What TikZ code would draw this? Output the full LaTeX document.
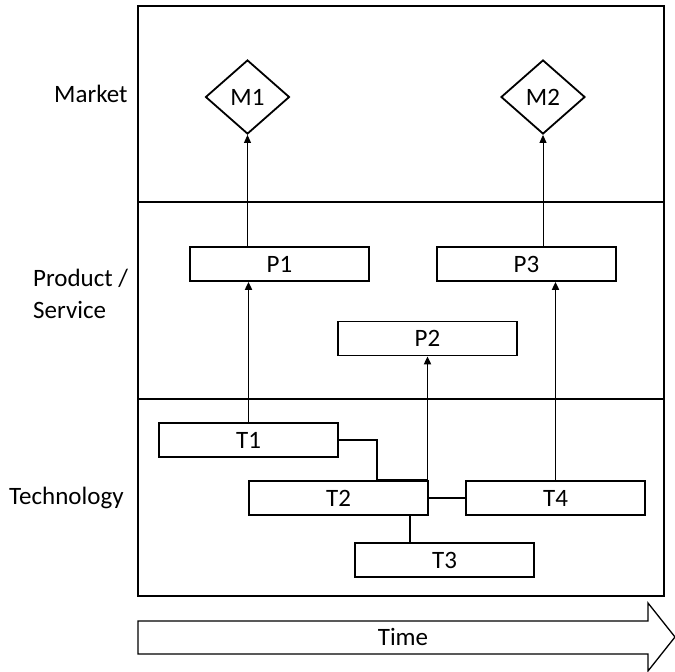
\documentclass[tikz,border=0pt]{standalone}
\usepackage{fontspec}
\setmainfont{Carlito}
\usetikzlibrary{shapes.geometric,arrows.meta}
\begin{document}
\begin{tikzpicture}[x=1pt,y=-1pt,
  font=\fontsize{25}{32}\selectfont,
  layer/.style={draw, line width=1.8pt, minimum width=526pt, inner sep=0pt},
  box/.style={draw, line width=1.8pt, minimum width=179pt, minimum height=34pt, inner sep=0pt},
  mk/.style={draw, diamond, line width=1.8pt, minimum width=84pt, minimum height=74pt, inner sep=0pt, aspect=1.13},
  lbl/.style={inner sep=0pt, align=left},
  thinarrow/.style={line width=1pt, -{Triangle[length=8pt,width=7pt]}},
  thickarrow/.style={line width=1.9pt, -{Triangle[length=8pt,width=7pt]}},
  link/.style={line width=1.9pt}]
\useasboundingbox (0,0) rectangle (675,672);
% layers
\node[layer, minimum height=196pt] (market) at (401,104) {};
\node[layer, minimum height=197pt] (product) at (401,300.5) {};
\node[layer, minimum height=197pt] (tech) at (401,497.5) {};
% labels
\node[lbl, anchor=base west] (lmarket) at (54,102) {Market};
\node[lbl, anchor=west] (lproduct) at (33,294) {Product /\\Service};
\node[lbl, anchor=base west] (ltech) at (9,504) {Technology};
% market
\node[mk] (M1) at (247.5,97) {M1};
\node[mk] (M2) at (543,97) {M2};
% product
\node[box] (P1) at (279.5,264) {P1};
\node[box] (P3) at (526.5,264) {P3};
\node[box] (P2) at (427.5,338.5) {P2};
% technology
\node[box] (T1) at (248.5,440) {T1};
\node[box] (T2) at (338.5,498) {T2};
\node[box] (T4) at (555.5,498) {T4};
\node[box] (T3) at (444.5,560) {T3};
% connectors
\coordinate (j1) at (377,0);
\coordinate (j2) at (410,0);
\draw[thinarrow] (M1.south |- P1.north) -- (M1.south);
\draw[thinarrow] (M2.south |- P3.north) -- (M2.south);
\draw[thickarrow] (T1.north) -- (T1.north |- P1.south);
\draw[thickarrow] (P2.south |- T2.north) -- (P2.south);
\draw[thickarrow] (T4.north) -- (T4.north |- P3.south);
\draw[link] (T1.east) -| (j1 |- T2.north) -- (P2.south |- T2.north);
\draw[link] (T2.east) -- (T4.west);
\draw[link] (j2 |- T2.south) -- (j2 |- T3.north);
% time arrow
\draw[line width=1.3pt] (138,621) -- (648,621) -- (648,603) -- (675,637) -- (648,671) -- (648,654) -- (138,654) -- cycle;
\node[inner sep=0pt] (time) at (403,637) {Time};
\end{tikzpicture}
\end{document}
